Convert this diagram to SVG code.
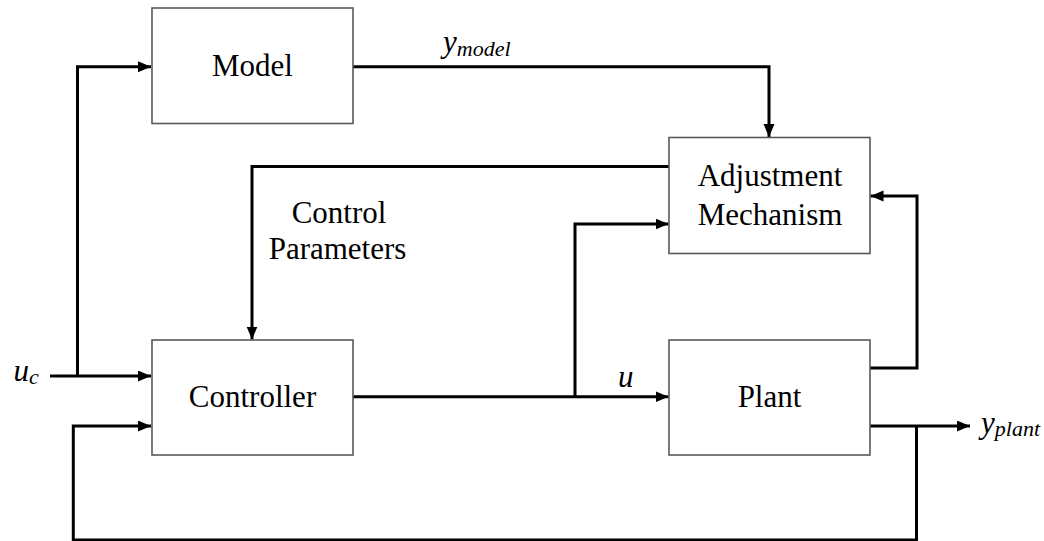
<svg xmlns="http://www.w3.org/2000/svg" width="1044" height="541" viewBox="0 0 1044 541">
  <defs>
    <marker id="arr" markerUnits="userSpaceOnUse" markerWidth="14" markerHeight="12" refX="13" refY="5.5" orient="auto">
      <path d="M0,0 L13,5.5 L0,11 z" fill="#000"/>
    </marker>
  </defs>
  <rect width="1044" height="541" fill="#fff"/>

  <g id="connectors" fill="none" stroke="#000" stroke-width="3" marker-end="url(#arr)">
    <path d="M50,376 H151"/>
    <path d="M77.5,376 V66.7 H151"/>
    <path d="M353,66.7 H769 V137"/>
    <path d="M669,166.5 H252 V339.5"/>
    <path d="M353,396.7 H668.5"/>
    <path d="M575,396.7 V224 H668.5"/>
    <path d="M870,368 H917 V196 H870.5"/>
    <path d="M870,426 H970"/>
    <path d="M916.5,426 V540 H73.3 V426 H151"/>
  </g>

  <g font-family="Liberation Serif" font-size="31" fill="#000">
    <g id="model">
      <rect x="152" y="8" width="201" height="115.5" fill="#fff" stroke="#595959" stroke-width="1.6"/>
      <text x="252.5" y="76" text-anchor="middle">Model</text>
    </g>
    <g id="adjustment">
      <rect x="669" y="137.5" width="201" height="116" fill="#fff" stroke="#595959" stroke-width="1.6"/>
      <text x="770" y="186" text-anchor="middle">Adjustment</text>
      <text x="770" y="225" text-anchor="middle">Mechanism</text>
    </g>
    <g id="controller">
      <rect x="152" y="340" width="201" height="115" fill="#fff" stroke="#595959" stroke-width="1.6"/>
      <text x="252.5" y="406.5" text-anchor="middle">Controller</text>
    </g>
    <g id="plant">
      <rect x="669" y="340" width="201" height="115" fill="#fff" stroke="#595959" stroke-width="1.6"/>
      <text x="769.5" y="406.5" text-anchor="middle">Plant</text>
    </g>

    <g id="labels">
      <text x="339" y="222.5" text-anchor="middle">Control</text>
      <text x="337.5" y="259" text-anchor="middle">Parameters</text>
      <g font-style="italic">
        <text x="443" y="52">y<tspan dy="4" font-size="22">model</tspan></text>
        <text x="13.5" y="381">u<tspan dy="3" font-size="22">c</tspan></text>
        <text x="618" y="387">u</text>
        <text x="981" y="433">y<tspan dy="3" font-size="22">plant</tspan></text>
      </g>
    </g>
  </g>
</svg>
